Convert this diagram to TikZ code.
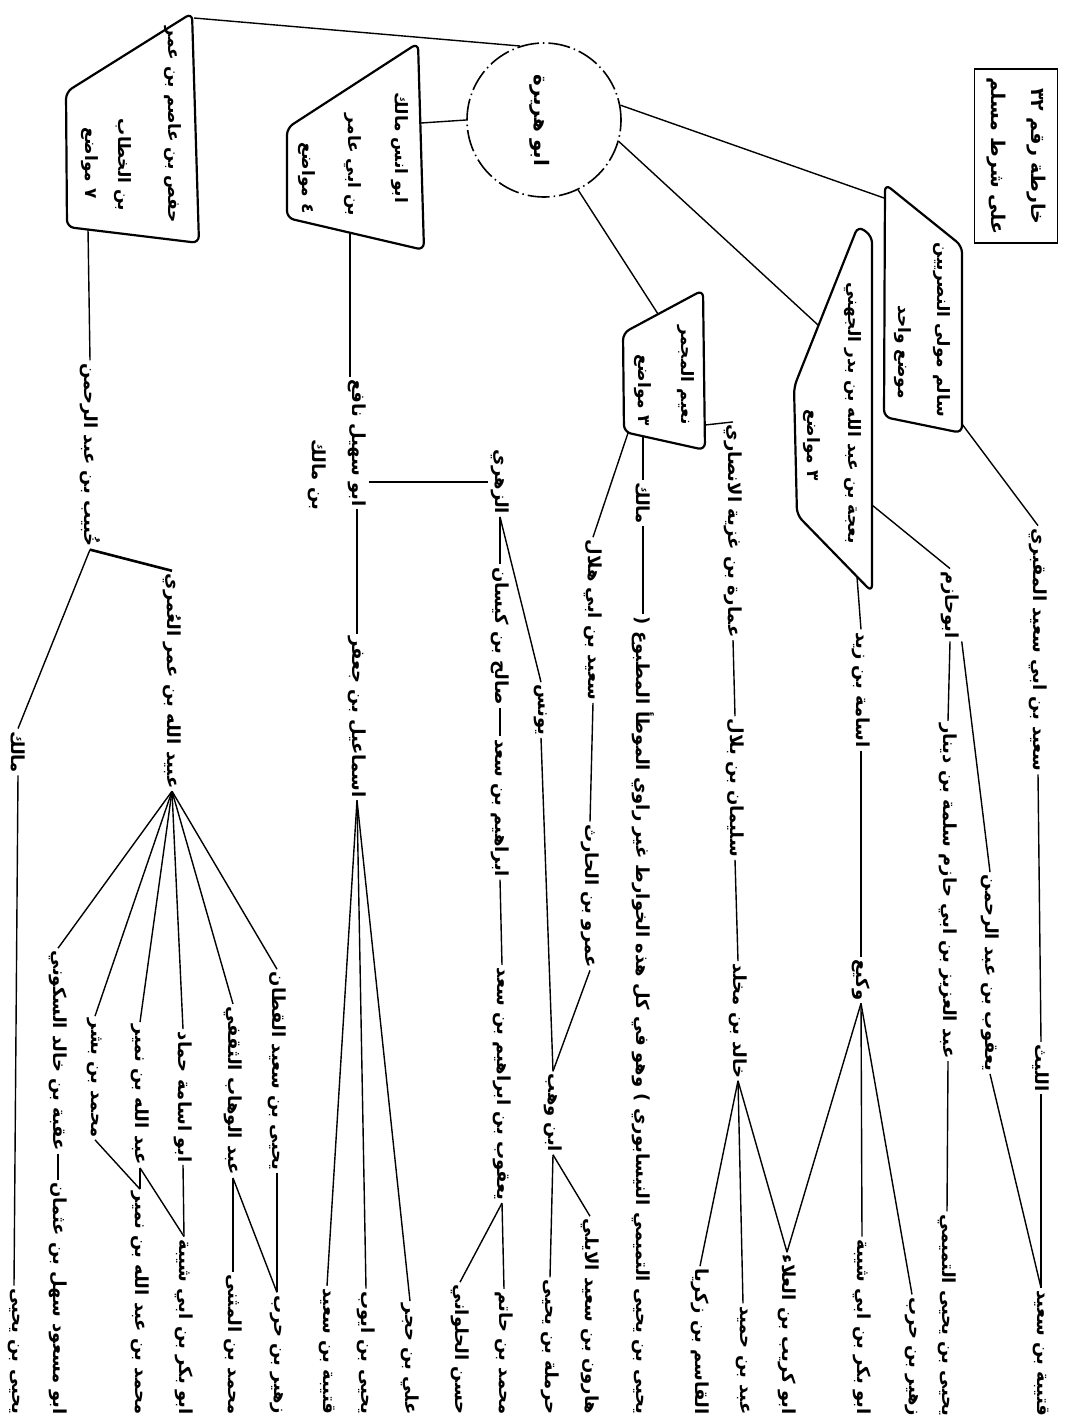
\documentclass[tikz,border=0pt]{standalone}
\usepackage{fontspec}
\newfontfamily\arabicfont[Script=Arabic]{DejaVu Sans}
\TeXXeTstate=1
\newcommand{\artxt}[1]{\beginR #1\endR}
\tikzset{
  rawi/.style={rotate=-90, inner sep=2.5pt, font=\arabicfont\bfseries\fontsize{18}{36}\selectfont},
  rawiend/.style={rawi, anchor=east},
  boxtext/.style={rawi, font=\arabicfont\bfseries\fontsize{17}{36}\selectfont},
  link/.style={line width=1.4pt},
  boxline/.style={line width=2.2pt, rounded corners=7pt, line join=round},
}
\begin{document}
\begin{tikzpicture}[x=1pt,y=-1pt]
  \useasboundingbox (0,0) rectangle (1068,1426);

  \node[rawi, draw, line width=1.6pt, minimum width=174pt, minimum height=83pt, align=center, font=\arabicfont\bfseries\fontsize{19}{40}\selectfont] (title) at (1016,156) {\artxt{خارطة رقم ٣٢}\\\artxt{على شرط مسلم}};

  \node[circle, draw, line width=1.6pt, dash pattern=on 22pt off 4pt on 1.5pt off 4pt, minimum size=154pt] (abuhurayra) at (544,120) {};
  \node[rawi, font=\arabicfont\bfseries\fontsize{20}{36}\selectfont] (abuhurayra-t) at (540,120) {\artxt{ابو هريرة}};

  \draw[boxline] (885,184) -- (962,246) -- (962,433) -- (884,417) -- cycle;
  \coordinate (salim-in) at (884,198);
  \coordinate (salim-out) at (962,424);
  \node[boxtext] (salim) at (942,330) {\artxt{سالم مولى النصريين}};
  \node[boxtext] (salim-n) at (903,352) {\artxt{موضع واحد}};

  \draw[boxline] (794,387) -- (858,226) -- (872,236) -- (872,592) -- (797,515) -- cycle;
  \coordinate (baja-in) at (818,325);
  \coordinate (baja-out1) at (872,505);
  \coordinate (baja-out2) at (857,577);
  \node[boxtext] (baja) at (853,413) {\artxt{بعجة بن عبد الله بن بدر الجهني}};
  \node[boxtext] (baja-n) at (812,445) {\artxt{٣ مواضع}};

  \draw[boxline] (623,333) -- (703,290) -- (705,450) -- (624,432) -- cycle;
  \coordinate (nuaym-in) at (658,314);
  \coordinate (nuaym-out1) at (705,425);
  \coordinate (nuaym-out2) at (643,436);
  \coordinate (nuaym-out3) at (628,433);
  \node[boxtext] (nuaym) at (686,375) {\artxt{نعيم المجمر}};
  \node[boxtext] (nuaym-n) at (643,390) {\artxt{٣ مواضع}};

  \draw[boxline] (287,128) -- (418,43) -- (424,250) -- (287,218) -- cycle;
  \coordinate (abuanas-in) at (421,123);
  \coordinate (abuanas-out) at (350,233);
  \node[boxtext] (abuanas) at (400,148) {\artxt{ابو انس مالك}};
  \node[boxtext] (abuanas-b) at (353,165) {\artxt{بن ابي عامر}};
  \node[boxtext] (abuanas-n) at (307,178) {\artxt{٤ مواضع}};

  \draw[boxline] (66,92) -- (192,13) -- (199,243) -- (67,227) -- cycle;
  \coordinate (hafs-in) at (194,18);
  \coordinate (hafs-out) at (88,229);
  \node[boxtext] (hafs) at (173,125) {\artxt{حفص بن عاصم بن عمر}};
  \node[boxtext] (hafs-b) at (123,165) {\artxt{بن الخطاب}};
  \node[boxtext] (hafs-n) at (90,163) {\artxt{٧ مواضع}};

  \node[rawi] (maqburi) at (1038,650) {\artxt{سعيد بن ابي سعيد المقبري}};
  \node[rawi] (layth) at (1041,1068) {\artxt{الليث}};
  \node[rawiend] (qutayba1) at (1041,1419) {\artxt{قتيبة بن سعيد}};
  \node[rawi] (abuhazim) at (950,605) {\artxt{ابوحازم}};
  \node[rawi] (abdalaziz) at (948,891) {\artxt{عبد العزيز بن ابي حازم سلمة بن دينار}};
  \node[rawiend] (yahya1) at (947,1419) {\artxt{يحيى بن يحيى التميمي}};
  \node[rawi] (yaqub1) at (990,973) {\artxt{يعقوب بن عبد الرحمن}};

  \node[rawi] (usama) at (861,690) {\artxt{اسامة بن زيد}};
  \node[rawi] (waki) at (861,980) {\artxt{وكيع}};
  \node[rawiend] (abukurayb) at (787,1417) {\artxt{ابو كريب بن العلاء}};
  \node[rawiend] (abubakr1) at (862,1417) {\artxt{ابو بكر بن ابي شيبة}};
  \node[rawiend] (zuhayr1) at (912,1419) {\artxt{زهير بن حرب}};

  \node[rawi] (umara) at (733,531) {\artxt{عمارة بن غزية الانصاري}};
  \node[rawi] (sulayman) at (735,788) {\artxt{سليمان بن بلال}};
  \node[rawi] (khalid) at (738,1021) {\artxt{خالد بن مخلد}};
  \node[rawiend] (qasim) at (700,1417) {\artxt{القاسم بن زكريا}};
  \node[rawiend] (abd) at (743,1417) {\artxt{عبد بن حميد}};

  \node[rawi] (malik1) at (643,503) {\artxt{مالك}};
  \node[rawiend] (yahya2) at (643,1417) {\artxt{يحيى بن يحيى التميمي النيسابوري ) وهو في كل هذه الخوارط غير راوي الموطأ المطبوع (}};

  \node[rawi] (ibnhilal) at (593,620) {\artxt{سعيد بن ابي هلال}};
  \node[rawi] (amr) at (590,896) {\artxt{عمرو بن الحارث}};
  \node[rawi] (ibnwahb) at (553,1113) {\artxt{ابن وهب}};
  \node[rawiend] (harun) at (590,1417) {\artxt{هارون بن سعيد الايلي}};
  \node[rawiend] (harmala) at (550,1417) {\artxt{حرملة بن يحيى}};

  \node[rawi] (zuhri) at (500,482) {\artxt{الزهري}};
  \node[rawi] (salih) at (500,636) {\artxt{صالح بن كيسان}};
  \node[rawi] (ibrahim) at (500,808) {\artxt{ابراهيم بن سعد}};
  \node[rawi] (yaqub2) at (502,1084) {\artxt{يعقوب بن ابراهيم بن سعد}};
  \node[rawi] (yunus) at (541,710) {\artxt{يونس}};
  \node[rawiend] (hasan) at (460,1417) {\artxt{حسن الحلواني}};
  \node[rawiend] (muhammadhatim) at (504,1417) {\artxt{محمد بن حاتم}};

  \node[rawi] (abusuhail) at (357,443) {\artxt{ابو سهيل نافع}};
  \node[rawi] (abusuhail-b) at (317,475) {\artxt{بن مالك}};
  \node[rawi] (ismail) at (357,717) {\artxt{اسماعيل بن جعفر}};
  \node[rawiend] (qutayba2) at (327,1417) {\artxt{قتيبة بن سعيد}};
  \node[rawiend] (yahyaayyub) at (366,1417) {\artxt{يحيى بن ايوب}};
  \node[rawiend] (ali) at (410,1417) {\artxt{علي بن حجر}};

  \node[rawi] (khubayb) at (90,455) {\artxt{خُبيب بن عبد الرحمن}};
  \node[rawi] (ubaydallah) at (172,681) {\artxt{عبيد الله بن عمر العُمري}};
  \node[rawi] (malik2) at (18,752) {\artxt{مالك}};
  \node[rawiend] (yahya3) at (14,1417) {\artxt{يحيى بن يحيى}};
  \node[rawi] (qattan) at (277,1071) {\artxt{يحيى بن سعيد القطان}};
  \node[rawi] (thaqafi) at (233,1091) {\artxt{عبد الوهاب الثقفي}};
  \node[rawi] (abuusama) at (183,1097) {\artxt{ابو اسامة حماد}};
  \node[rawi] (ibnnumayr) at (140,1095) {\artxt{عبد الله بن نمير}};
  \node[rawi] (ibnbishr) at (95,1078) {\artxt{محمد بن بشر}};
  \node[rawi] (uqba) at (58,1051) {\artxt{عقبة بن خالد السكوني}};
  \node[rawiend] (zuhayr2) at (277,1417) {\artxt{زهير بن حرب}};
  \node[rawiend] (muthanna) at (233,1417) {\artxt{محمد بن المثنى}};
  \node[rawiend] (abubakr2) at (184,1417) {\artxt{ابو بكر بن ابي شيبة}};
  \node[rawiend] (ibnnumayr2) at (140,1417) {\artxt{محمد بن عبد الله بن نمير}};
  \node[rawiend] (sahl) at (58,1417) {\artxt{ابو مسعود سهل بن عثمان}};

  \draw[link] (abuhurayra.108) -- (hafs-in);
  \draw[link] (abuhurayra.west) -- (abuanas-in);
  \draw[link] (abuhurayra.-64) -- (nuaym-in);
  \draw[link] (abuhurayra.-16) -- (baja-in);
  \draw[link] (abuhurayra.11) -- (salim-in);

  \draw[link] (salim-out) -- (maqburi.west);
  \draw[link] (maqburi.east) -- (layth.west);
  \draw[link] (layth.east) -- (qutayba1.west);
  \draw[link] (baja-out1) -- (abuhazim.west);
  \draw[link] (abuhazim.east) -- (abdalaziz.west);
  \draw[link] (abdalaziz.east) -- (yahya1.west);
  \draw[link] (abuhazim.north east) -- (yaqub1.west);
  \draw[link] (yaqub1.east) -- (qutayba1.west);

  \draw[link] (baja-out2) -- (usama.west);
  \draw[link] (usama.east) -- (waki.west);
  \foreach \t in {abukurayb, abubakr1, zuhayr1}
    \draw[link] (waki.east) -- (\t.west);

  \draw[link] (nuaym-out1) -- (umara.west);
  \draw[link] (umara.east) -- (sulayman.west);
  \draw[link] (sulayman.east) -- (khalid.west);
  \foreach \t in {qasim, abd, abukurayb}
    \draw[link] (khalid.east) -- (\t.west);

  \draw[link] (nuaym-out2) -- (malik1.west);
  \draw[link] (malik1.east) -- (yahya2.west);

  \draw[link] (nuaym-out3) -- (ibnhilal.west);
  \draw[link] (ibnhilal.east) -- (amr.west);
  \draw[link] (amr.east) -- (ibnwahb.west);
  \draw[link] (ibnwahb.east) -- (harun.west);
  \draw[link] (ibnwahb.east) -- (harmala.west);

  \draw[link] (zuhri.east) -- (salih.west);
  \draw[link] (salih.east) -- (ibrahim.west);
  \draw[link] (ibrahim.east) -- (yaqub2.west);
  \draw[link] (yaqub2.east) -- (hasan.west);
  \draw[link] (yaqub2.east) -- (muhammadhatim.west);
  \draw[link] (zuhri.east) -- (yunus.west);
  \draw[link] (yunus.east) -- (ibnwahb.west);

  \draw[link] (abuanas-out) -- (abuanas-out |- abusuhail.west);
  \draw[link] (abusuhail.north |- zuhri.south) -- (zuhri.south);
  \draw[link] (abusuhail.east) -- (ismail.west);
  \foreach \t in {qutayba2, yahyaayyub, ali}
    \draw[link] (ismail.east) -- (\t.west);

  \draw[link] (hafs-out) -- (khubayb.west);
  \draw[link, line width=2.6pt] (khubayb.east) -- (ubaydallah.west);
  \draw[link] (khubayb.east) -- (malik2.west);
  \draw[link] (malik2.east) -- (yahya3.west);
  \foreach \t in {qattan, thaqafi, abuusama, ibnnumayr, ibnbishr, uqba}
    \draw[link] (ubaydallah.east) -- (\t.west);
  \draw[link] (qattan.east) -- (zuhayr2.west);
  \draw[link] (thaqafi.east) -- (zuhayr2.west);
  \draw[link] (thaqafi.east) -- (muthanna.west);
  \draw[link] (abuusama.east) -- (abubakr2.west);
  \draw[link] (ibnnumayr.east) -- (abubakr2.west);
  \draw[link] (ibnnumayr.east) -- (ibnnumayr2.west);
  \draw[link] (ibnbishr.east) -- (ibnnumayr2.west);
  \draw[link] (uqba.east) -- (sahl.west);
\end{tikzpicture}
\end{document}
